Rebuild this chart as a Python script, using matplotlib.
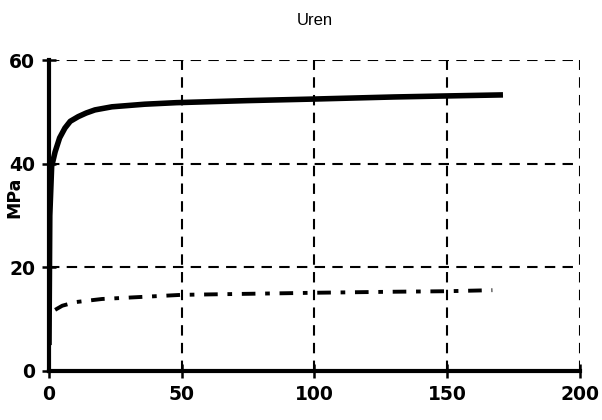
import matplotlib
matplotlib.use("Agg")
import matplotlib.pyplot as plt

plt.rcParams['font.family'] = ['Liberation Sans', 'DejaVu Sans']

# upper curve (solid)
x_top = [0, 0.3, 1, 2.3, 4, 6, 8, 11, 14, 17.3, 23.7, 36, 48, 75, 100, 130, 150, 171]
y_top = [5, 30, 39.5, 42.3, 45.0, 46.9, 48.2, 49.1, 49.8, 50.4, 51.0, 51.5, 51.8, 52.2, 52.5, 52.9, 53.1, 53.3]

# lower curve (dashed)
x_low = [2.3, 5, 10, 20, 35, 50, 75, 100, 130, 150, 167]
y_low = [11.8, 12.6, 13.3, 13.9, 14.3, 14.7, 14.9, 15.1, 15.3, 15.4, 15.6]

x_ticks = [0, 50, 100, 150, 200]
y_ticks = [0, 20, 40, 60]

fig = plt.figure(figsize=(6.02, 4.2), dpi=100)
ax = fig.add_axes([0.0814, 0.1167, 0.882, 0.74])

ax.plot(x_top, y_top, color='black', lw=4, solid_capstyle='butt', zorder=3)
ax.plot(x_low, y_low, color='black', lw=2.8, dashes=(3.5, 2.5, 1.2, 2.5), zorder=3)

ax.set_xlim(0, 200)
ax.set_ylim(0, 60)
ax.set_xticks(x_ticks)
ax.set_yticks(y_ticks)
ax.grid(True, color='black', lw=1.5, ls=(0, (5, 3.5)))

for s in ['top', 'right']:
    ax.spines[s].set_visible(False)
for s in ['left', 'bottom']:
    ax.spines[s].set_linewidth(3)

ax.tick_params(direction='inout', length=10, width=1.8, labelsize=13.5, pad=5)
for lab in ax.get_xticklabels() + ax.get_yticklabels():
    lab.set_fontweight('bold')
    lab.set_family('DejaVu Sans')

ax.set_ylabel('MPa', fontsize=12.5, fontweight='bold', family='DejaVu Sans')
ax.yaxis.set_label_coords(-0.048, 0.56)
ax.set_title('Uren', fontsize=12, pad=25)

fig.savefig('out.png', dpi=100)
